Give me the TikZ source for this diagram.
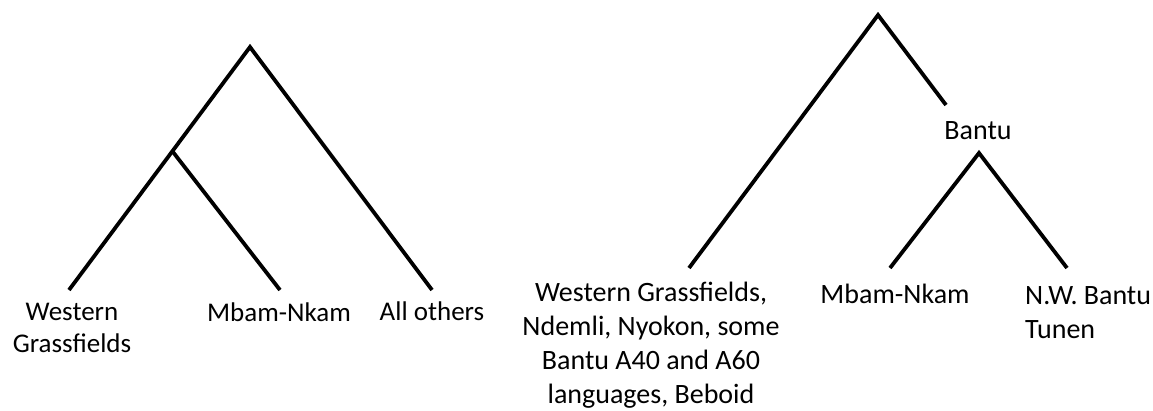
\documentclass[tikz,border=0pt]{standalone}
\usepackage{fontspec}
\setmainfont{Carlito}
\begin{document}
\begin{tikzpicture}[x=1pt,y=-1pt,
  branch/.style={line width=3.8pt,line cap=butt,line join=miter},
  lblA/.style={inner sep=0pt,font=\fontsize{27}{31.5}\selectfont},
  lblB/.style={inner sep=0pt,font=\fontsize{28}{33.7}\selectfont}]
\useasboundingbox (0,0) rectangle (1153,410);
% left tree
\coordinate (a0) at (250,47);
\coordinate (a1) at (173,152);
\coordinate (aw) at (69,290);
\coordinate (am) at (280,290);
\coordinate (ao) at (432,290);
\draw[branch] (aw) -- (a0) -- (ao);
\draw[branch] (a1) -- (am);
\node[lblA,anchor=base,align=center] (tw) at (72,352) {Western\\Grassfields};
\node[lblA,anchor=base] (tm) at (279,321) {Mbam-Nkam};
\node[lblA,anchor=base] (to) at (432,320) {All others};
% right tree
\coordinate (b0) at (878,15);
\coordinate (bl) at (689,268);
\coordinate (bb) at (946,105);
\node[lblB,anchor=base] (tb) at (978,139) {Bantu};
\coordinate (b1) at (979,153);
\coordinate (bm) at (890,268);
\coordinate (bn) at (1067,268);
\draw[branch] (bl) -- (b0) -- (bb);
\draw[branch] (bm) -- (b1) -- (bn);
\node[lblB,anchor=base,align=center] (tg) at (651,403) {Western Grassfields,\\Ndemli, Nyokon, some\\Bantu A40 and A60\\languages, Beboid};
\node[lblB,anchor=base] (tm2) at (895,303) {Mbam-Nkam};
\node[lblB,anchor=base west,align=left] (tn) at (1025,338) {N.W. Bantu\\Tunen};
\end{tikzpicture}
\end{document}
